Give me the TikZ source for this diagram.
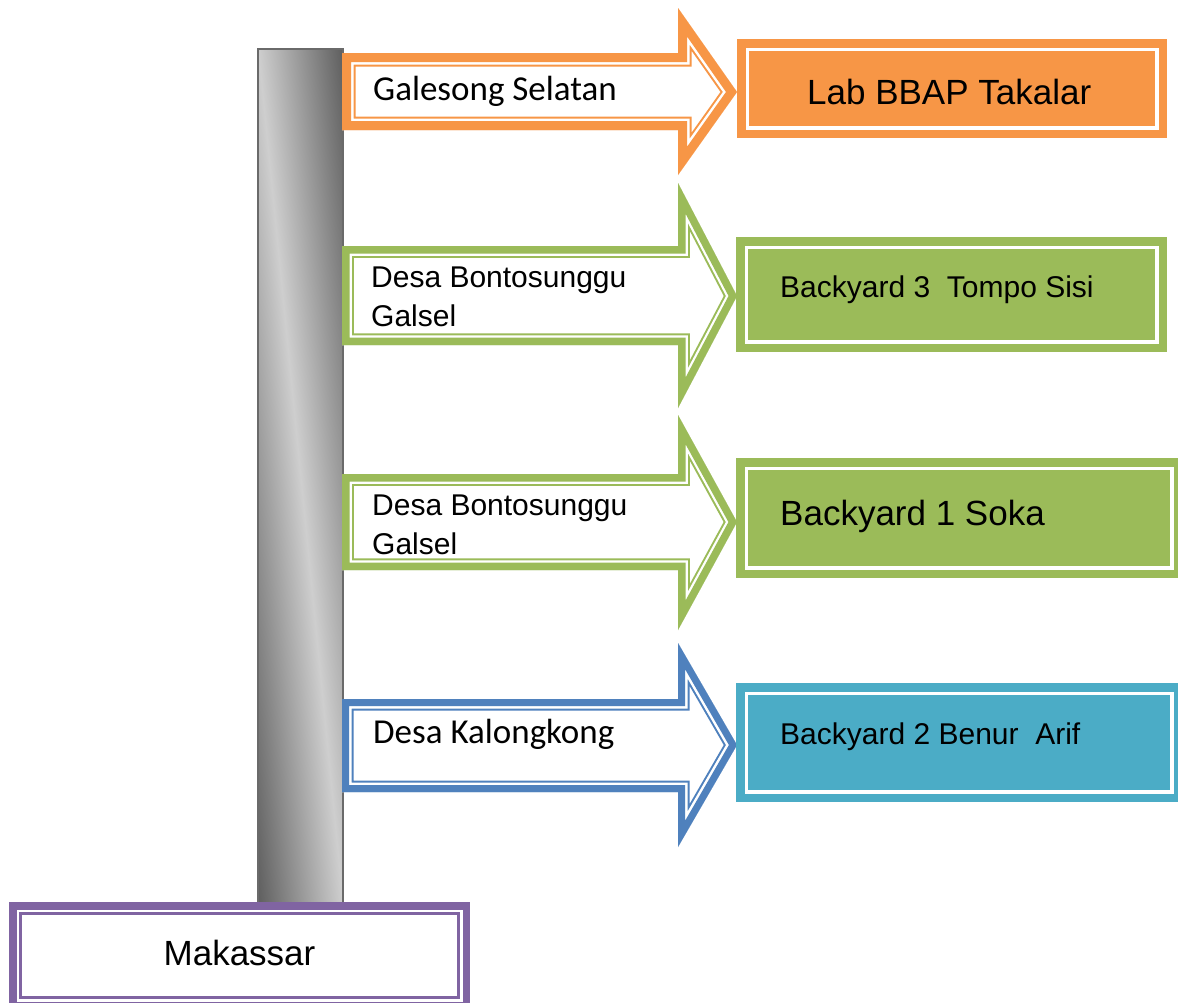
\documentclass[tikz,border=0pt]{standalone}
\usepackage{fontspec}
\newfontfamily\arialf{Liberation Sans}
\newfontfamily\calf{Carlito}
\definecolor{orangeA}{HTML}{F79646}
\definecolor{greenA}{HTML}{9BBB59}
\definecolor{blueA}{HTML}{4F81BD}
\definecolor{tealA}{HTML}{4BACC6}
\definecolor{purpleA}{HTML}{8064A2}
\definecolor{pillarD}{HTML}{5E5E5E}
\definecolor{pillarL}{HTML}{CECECE}
\definecolor{pillarB}{HTML}{6A6A6A}
% band widths (doubled, since the stroke is clipped to the inside)
\def\wA{16pt}\def\wB{21pt}\def\wC{25pt}
\newcommand{\dblarrow}[9]{%
\begin{scope}
\clip (#2,#3) -- (#5,#3) -- (#5,#6) -- (#8,#9) -- (#5,#7) -- (#5,#4) -- (#2,#4) -- cycle;
\fill[white] (#2,#3) -- (#5,#3) -- (#5,#6) -- (#8,#9) -- (#5,#7) -- (#5,#4) -- (#2,#4) -- cycle;
\draw[#1, line width=\wC, line join=miter] (#2,#3) -- (#5,#3) -- (#5,#6) -- (#8,#9) -- (#5,#7) -- (#5,#4) -- (#2,#4) -- cycle;
\draw[white, line width=\wB, line join=miter] (#2,#3) -- (#5,#3) -- (#5,#6) -- (#8,#9) -- (#5,#7) -- (#5,#4) -- (#2,#4) -- cycle;
\draw[#1, line width=\wA, line join=miter] (#2,#3) -- (#5,#3) -- (#5,#6) -- (#8,#9) -- (#5,#7) -- (#5,#4) -- (#2,#4) -- cycle;
\end{scope}}
\tikzset{
  boxnode/.style={draw=none, inner sep=0pt, anchor=north west},
  lbl/.style={inner sep=0pt, anchor=base west, text=black},
  big/.style={font=\fontsize{35}{42}\selectfont},
  small/.style={font=\fontsize{30}{39}\selectfont},
}
\begin{document}
\begin{tikzpicture}[x=1pt, y=-1pt]
\useasboundingbox (0,0) rectangle (1178,1002);
\fill[white] (0,0) rectangle (1178,1002);

% pillar
\begin{scope}
\clip (258,49) rectangle (343,905);
\shade[left color=pillarD, right color=pillarD, middle color=pillarL,
  transform canvas={rotate around={5.67:(300.5,477)}}] (215.5,-120) rectangle (385.5,1074);
\end{scope}
\draw[pillarB, line width=2pt] (258,49) rectangle (343,905);
\coordinate (pillar) at (343,477);

% arrows
\def\wA{18pt}\def\wB{23pt}\def\wC{27pt}
\dblarrow{orangeA}{342}{53}{130}{678}{8}{175}{737}{92}
\def\wA{15pt}\def\wB{19.5pt}\def\wC{23.5pt}
\dblarrow{greenA}{342}{246}{345}{678}{183}{408}{737}{296}
\dblarrow{greenA}{342}{474}{570}{678}{415}{630}{737}{522}
\def\wA{14pt}\def\wB{19pt}\def\wC{23pt}
\dblarrow{blueA}{342}{699}{792}{678}{643}{847}{737}{745}

% arrow labels
\node[lbl, big, font=\calf\fontsize{35}{42}\selectfont] (a1) at (373,100) {Galesong Selatan};
\node[lbl, font=\arialf\fontsize{30}{39}\selectfont] (a2) at (371,287)
  {\vtop{\baselineskip=39pt\hbox{Desa Bontosunggu}\hbox{Galsel}}};
\node[lbl, font=\arialf\fontsize{30}{39}\selectfont] (a3) at (372,515)
  {\vtop{\baselineskip=39pt\hbox{Desa Bontosunggu}\hbox{Galsel}}};
\node[lbl, font=\calf\fontsize{35}{42}\selectfont] (a4) at (373,743) {Desa Kalongkong};

% destination boxes
\node[boxnode, fill=orangeA, minimum width=430pt, minimum height=99pt] (lab) at (737,39) {};
\node[boxnode, fill=greenA, minimum width=431pt, minimum height=115pt] (b3) at (736,237) {};
\node[boxnode, fill=greenA, minimum width=446pt, minimum height=120pt] (b1) at (736,458) {};
\node[boxnode, fill=tealA, minimum width=446pt, minimum height=119pt] (b2) at (736,683) {};
\foreach \b/\c in {lab/orangeA, b3/greenA, b1/greenA, b2/tealA}{
  \fill[white] ([shift={(8.5,8.5)}]\b.north west) rectangle ([shift={(-8.5,-8.5)}]\b.south east);
  \fill[\c] ([shift={(12,12)}]\b.north west) rectangle ([shift={(-12,-12)}]\b.south east);
}
\node[lbl, font=\arialf\fontsize{35}{42}\selectfont] (labt) at (807,104) {Lab BBAP Takalar};
\node[lbl, font=\arialf\fontsize{30}{39}\selectfont] (b3t) at (780,297) {Backyard 3\ \ Tompo Sisi};
\node[lbl, font=\arialf\fontsize{35}{42}\selectfont] (b1t) at (780,525) {Backyard 1 Soka};
\node[lbl, font=\arialf\fontsize{30}{39}\selectfont] (b2t) at (780,744) {Backyard 2 Benur\ \ Arif};

% origin box
\node[boxnode, fill=purpleA, minimum width=461pt, minimum height=107pt] (mak) at (9,902) {};
\fill[white] ([shift={(7.7,7.7)}]mak.north west) rectangle ([shift={(-7.7,-7.7)}]mak.south east);
\fill[purpleA] ([shift={(10.4,10.4)}]mak.north west) rectangle ([shift={(-10.4,-10.4)}]mak.south east);
\fill[white] ([shift={(13,13)}]mak.north west) rectangle ([shift={(-13,-13)}]mak.south east);
\node[inner sep=0pt, anchor=base, font=\arialf\fontsize{35}{42}\selectfont] (makt) at (239.5,965) {Makassar};
\end{tikzpicture}
\end{document}
